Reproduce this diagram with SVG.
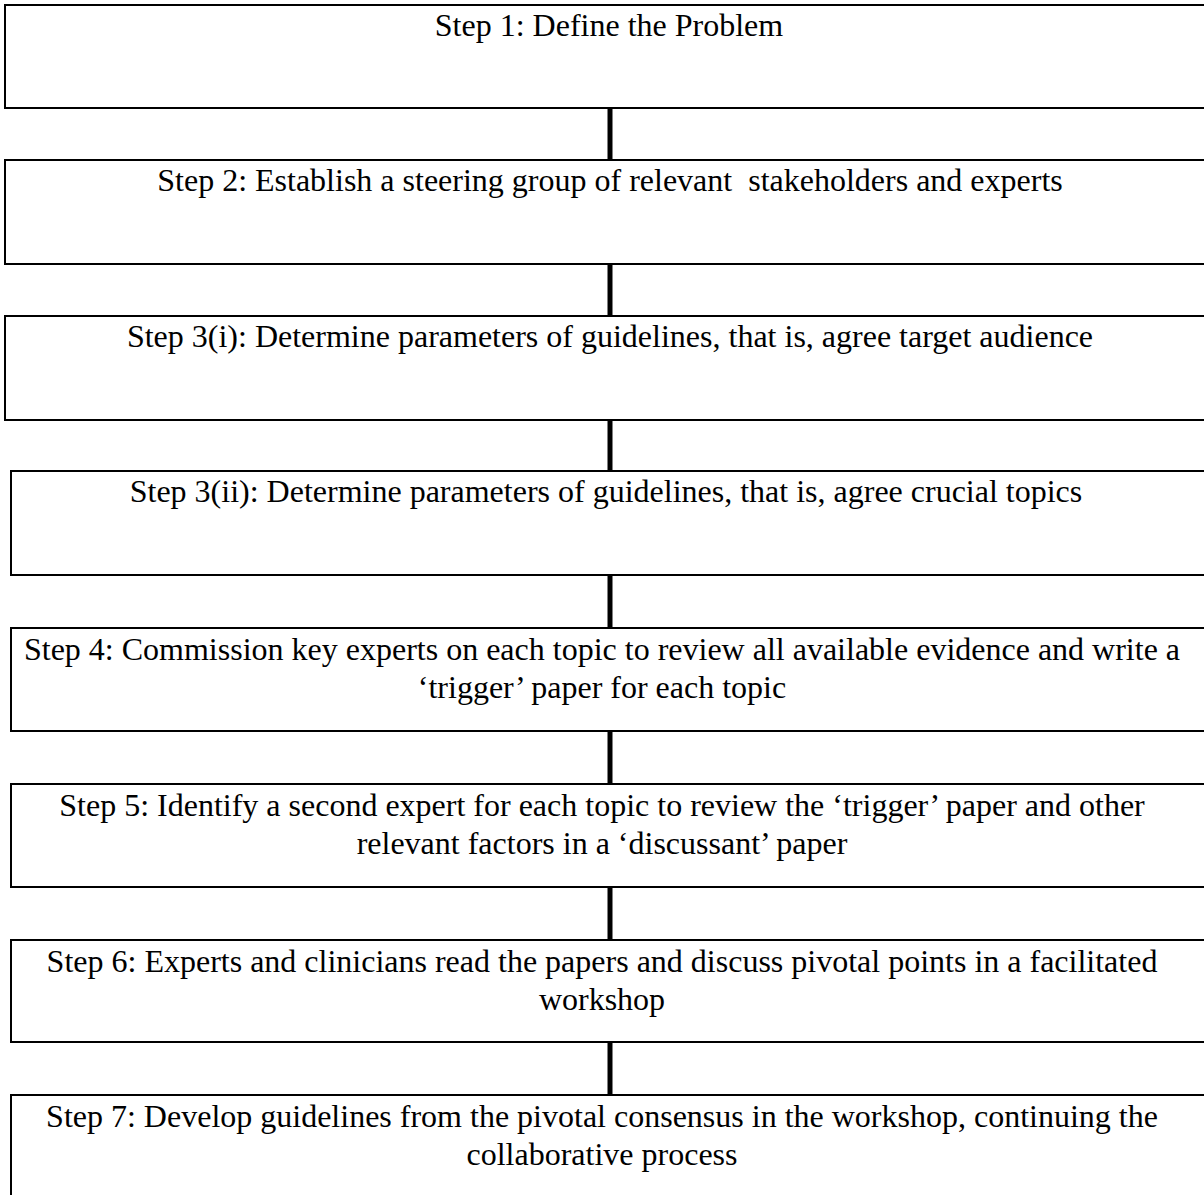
<svg xmlns="http://www.w3.org/2000/svg" width="1204" height="1195" viewBox="0 0 1204 1195">
<style>
.box{fill:#fff;stroke:#000;stroke-width:2}
.t{font-family:"Liberation Serif","Times New Roman",serif;font-size:32px;fill:#000;text-anchor:middle}
.c{stroke:#000;stroke-width:5}
</style>
<rect width="1204" height="1195" fill="#fff"/>
<g id="connectors">
<line class="c" x1="610" y1="108" x2="610" y2="160"/>
<line class="c" x1="610" y1="264" x2="610" y2="316"/>
<line class="c" x1="610" y1="420" x2="610" y2="471"/>
<line class="c" x1="610" y1="575" x2="610" y2="628"/>
<line class="c" x1="610" y1="731" x2="610" y2="784"/>
<line class="c" x1="610" y1="887" x2="610" y2="940"/>
<line class="c" x1="610" y1="1042" x2="610" y2="1095"/>
</g>
<g id="step1"><rect class="box" x="5" y="5" width="1215" height="103"/><text class="t" x="609" y="36">Step 1: Define the Problem</text></g>
<g id="step2"><rect class="box" x="5" y="160" width="1215" height="104"/><text class="t" x="610" y="191" xml:space="preserve">Step 2: Establish a steering group of relevant  stakeholders and experts</text></g>
<g id="step3i"><rect class="box" x="5" y="316" width="1215" height="104"/><text class="t" x="610" y="347">Step 3(i): Determine parameters of guidelines, that is, agree target audience</text></g>
<g id="step3ii"><rect class="box" x="11" y="471" width="1210" height="104"/><text class="t" x="606" y="502">Step 3(ii): Determine parameters of guidelines, that is, agree crucial topics</text></g>
<g id="step4"><rect class="box" x="11" y="628" width="1210" height="103"/><text class="t" x="602" y="660">Step 4: Commission key experts on each topic to review all available evidence and write a</text><text class="t" x="602" y="698">‘trigger’ paper for each topic</text></g>
<g id="step5"><rect class="box" x="11" y="784" width="1210" height="103"/><text class="t" x="602" y="816">Step 5: Identify a second expert for each topic to review the ‘trigger’ paper and other</text><text class="t" x="602" y="854">relevant factors in a ‘discussant’ paper</text></g>
<g id="step6"><rect class="box" x="11" y="940" width="1210" height="102"/><text class="t" x="602" y="972">Step 6: Experts and clinicians read the papers and discuss pivotal points in a facilitated</text><text class="t" x="602" y="1010">workshop</text></g>
<g id="step7"><rect class="box" x="11" y="1095" width="1210" height="120"/><text class="t" x="602" y="1127">Step 7: Develop guidelines from the pivotal consensus in the workshop, continuing the</text><text class="t" x="602" y="1165">collaborative process</text></g>
</svg>
